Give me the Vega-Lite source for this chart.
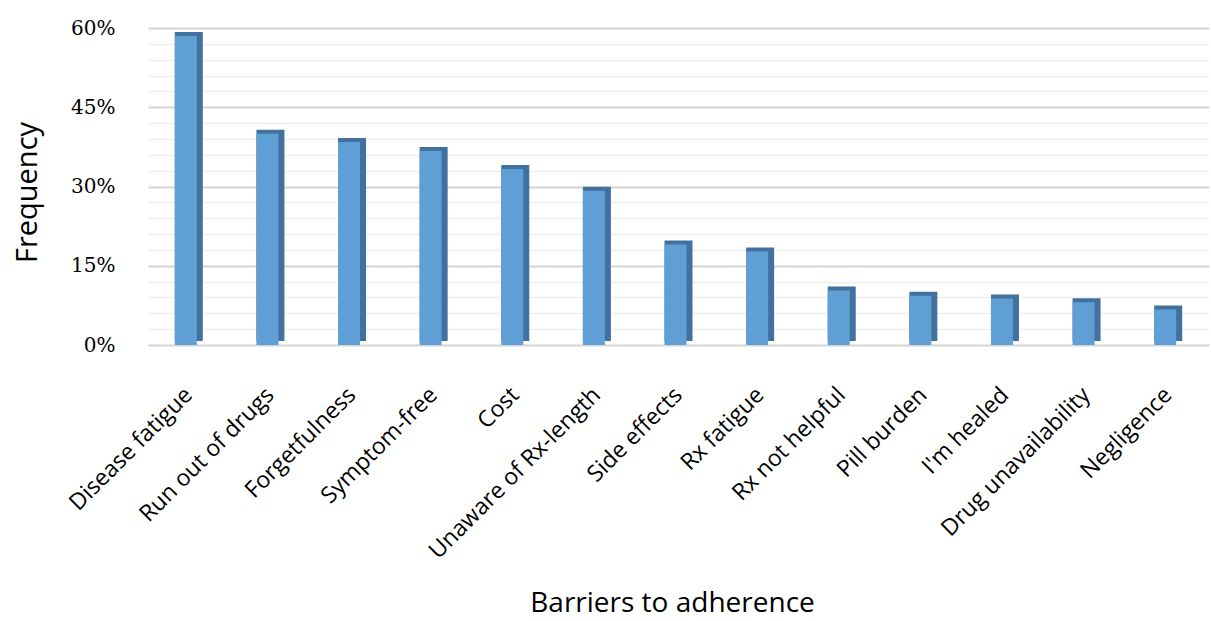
{
  "$schema": "https://vega.github.io/schema/vega-lite/v6.json",
  "autosize": {"type": "none"},
  "width": 1061,
  "height": 317,
  "padding": {"left": 148, "top": 28, "right": 2, "bottom": 276},
  "background": "white",
  "config": {"view": {"stroke": null}},
  "data": {
    "values": [
      {"barrier": "Disease fatigue", "freq": 0.585},
      {"barrier": "Run out of drugs", "freq": 0.400},
      {"barrier": "Forgetfulness", "freq": 0.384},
      {"barrier": "Symptom-free", "freq": 0.367},
      {"barrier": "Cost", "freq": 0.333},
      {"barrier": "Unaware of Rx-length", "freq": 0.292},
      {"barrier": "Side effects", "freq": 0.190},
      {"barrier": "Rx fatigue", "freq": 0.177},
      {"barrier": "Rx not helpful", "freq": 0.103},
      {"barrier": "Pill burden", "freq": 0.093},
      {"barrier": "I'm healed", "freq": 0.088},
      {"barrier": "Drug unavailability", "freq": 0.081},
      {"barrier": "Negligence", "freq": 0.067}
    ]
  },
  "encoding": {
    "x": {
      "field": "barrier",
      "type": "nominal",
      "sort": null,
      "scale": {"paddingInner": 0.7, "paddingOuter": 0.35},
      "axis": {
        "title": "Barriers to adherence",
        "titleFont": "Open Sans",
        "titleFontSize": 28,
        "titleFontWeight": "normal",
        "titleColor": "#000000",
        "titleX": 524,
        "titleY": 266,
        "titleBaseline": "alphabetic",
        "titleAnchor": "middle",
        "titleAlign": "center",
        "labelFont": "Open Sans",
        "labelFontSize": 23,
        "labelColor": "#000000",
        "labelAngle": -45,
        "labelAlign": "right",
        "labelBaseline": "middle",
        "labelPadding": 46,
        "labelOverlap": false,
        "labelLimit": 400,
        "ticks": false,
        "domain": false,
        "grid": false
      }
    },
    "y": {
      "field": "freq",
      "type": "quantitative",
      "scale": {"domain": [0, 0.6], "nice": false, "zero": true},
      "axis": {
        "title": "Frequency",
        "titleFont": "Open Sans",
        "titleFontSize": 29,
        "titleFontWeight": "normal",
        "titleColor": "#000000",
        "titleAngle": -90,
        "titleX": -112,
        "titleY": 164,
        "titleBaseline": "alphabetic",
        "titleAlign": "center",
        "values": [0, 0.03, 0.06, 0.09, 0.12, 0.15, 0.18, 0.21, 0.24, 0.27, 0.3, 0.33, 0.36, 0.39, 0.42, 0.45, 0.48, 0.51, 0.54, 0.57, 0.6],
        "labelExpr": "round(datum.value*100) % 15 == 0 ? format(datum.value, '.0%') : ''",
        "labelFont": "DejaVu Serif",
        "labelFontSize": 20,
        "labelColor": "#000000",
        "labelPadding": 33,
        "labelBaseline": "middle",
        "ticks": false,
        "domain": false,
        "grid": true,
        "gridColor": {"condition": {"test": "round(datum.value*100) % 15 == 0", "value": "#d4d4d4"}, "value": "#efefef"},
        "gridWidth": {"condition": {"test": "round(datum.value*100) % 15 == 0", "value": 2}, "value": 1.5}
      }
    }
  },
  "layer": [
    {
      "mark": {"type": "bar", "width": 28, "yOffset": -4, "color": "#41729f"}
    },
    {
      "mark": {"type": "bar", "width": 22, "xOffset": -3, "color": "#5f9fd6"}
    }
  ]
}
